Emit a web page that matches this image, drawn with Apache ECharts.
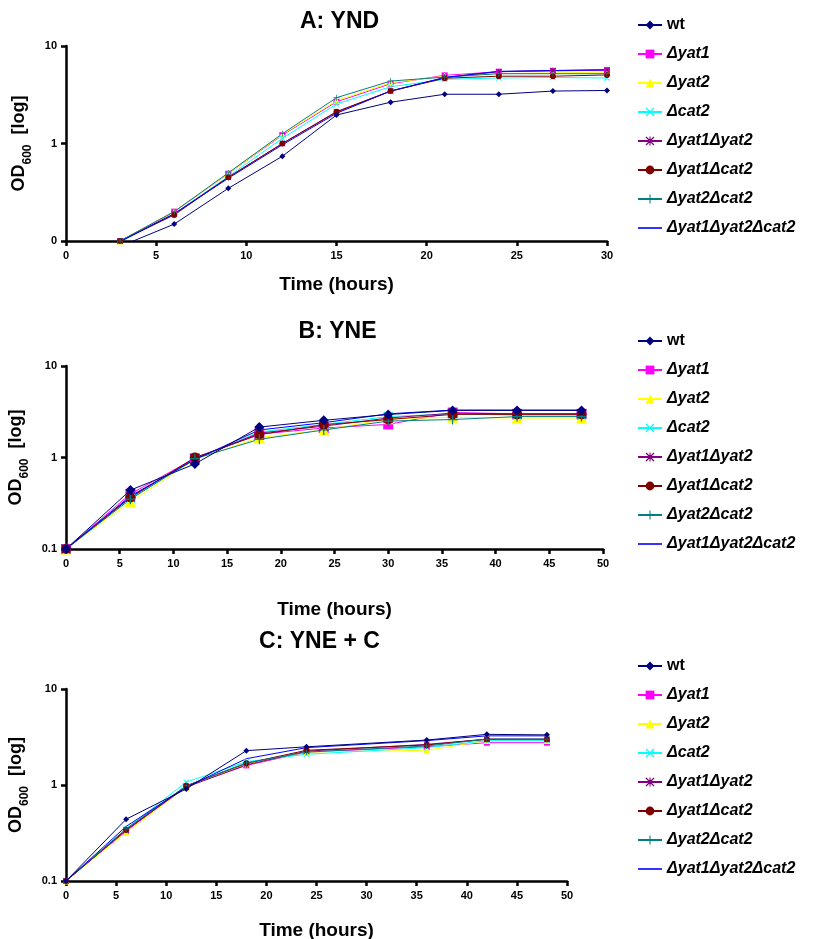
<!DOCTYPE html>
<html><head><meta charset="utf-8">
<script src="https://cdn.jsdelivr.net/npm/echarts@6/dist/echarts.min.js"></script>
<style>html,body{margin:0;padding:0;background:#fff}#c{width:819px;height:939px}</style>
</head><body><div id="c"></div>
<script>
// ---- data ----
const seriesNames = ['wt','Δyat1','Δyat2','Δcat2','Δyat1Δyat2','Δyat1Δcat2','Δyat2Δcat2','Δyat1Δyat2Δcat2'];
const panelTitles = ['A: YND','B: YNE','C: YNE + C'];
const yTicksA = ['0','1','10'];
const timesA = [3,6,9,12,15,18,21,24,27,30];
const A_wt       = [0.088,0.149,0.347,0.74,1.96,2.65,3.2,3.2,3.45,3.5];
const A_yat1     = [0.1,0.2,0.49,1.22,2.68,4.1,5.0,5.45,5.55,5.65];
const A_yat2     = [0.1,0.2,0.49,1.24,2.75,4.2,4.9,5.2,5.3,5.4];
const A_cat2     = [0.1,0.19,0.46,1.13,2.54,3.82,4.55,4.7,4.75,4.7];
const A_yat1yat2 = [0.1,0.19,0.45,1.0,2.1,3.45,4.75,5.45,5.6,5.7];
const A_yat1cat2 = [0.1,0.185,0.45,1.0,2.12,3.45,4.67,4.9,4.9,5.05];
const A_yat2cat2 = [0.1,0.2,0.5,1.26,2.95,4.37,4.8,5.2,5.2,5.2];
const A_triple   = [0.098,0.19,0.44,0.97,2.04,3.45,4.75,5.5,5.6,5.7];

const timesB = [0,6,12,18,24,30,36,42,48];
const B_wt       = [0.1,0.44,0.85,2.15,2.55,2.95,3.27,3.27,3.27];
const B_yat1     = [0.1,0.40,0.98,1.8,2.1,2.3,3.1,3.0,3.0];
const B_yat2     = [0.1,0.33,0.95,1.65,2.0,2.65,2.75,2.7,2.7];
const B_cat2     = [0.1,0.36,0.95,1.9,2.3,2.8,3.0,2.9,2.9];
const B_yat1yat2 = [0.1,0.37,0.97,1.85,2.2,2.7,3.05,3.0,3.0];
const B_yat1cat2 = [0.1,0.365,1.0,1.78,2.28,2.6,2.96,2.96,2.96];
const B_yat2cat2 = [0.1,0.35,0.97,1.58,2.0,2.5,2.6,2.8,2.8];
const B_triple   = [0.1,0.38,0.95,2.0,2.4,3.0,3.3,3.3,3.3];

const timesC = [0,6,12,18,24,36,42,48];
const C_wt       = [0.1,0.44,0.91,2.28,2.5,2.94,3.37,3.33];
const C_yat1     = [0.1,0.33,0.97,1.6,2.2,2.5,2.76,2.76];
const C_yat2     = [0.1,0.32,0.95,1.65,2.2,2.3,2.9,2.9];
const C_cat2     = [0.1,0.35,1.07,1.75,2.09,2.45,2.9,2.9];
const C_yat1yat2 = [0.1,0.34,0.95,1.62,2.25,2.65,3.0,3.0];
const C_yat1cat2 = [0.1,0.34,0.98,1.68,2.3,2.61,3.0,3.0];
const C_yat2cat2 = [0.1,0.35,0.98,1.7,2.2,2.55,3.0,3.0];
const C_triple   = [0.1,0.37,0.95,1.88,2.45,2.9,3.25,3.25];

// ---- styling ----
const colors = ['#000080','#FF00FF','#FFFF00','#00FFFF','#800080','#800000','#008080','#0000FF'];
const X_PATH = 'path://M0,1 L1,0 L5,4 L9,0 L10,1 L6,5 L10,9 L9,10 L5,6 L1,10 L0,9 L4,5 Z';
const PLUS_PATH = 'path://M4.4,0 L5.6,0 L5.6,4.4 L10,4.4 L10,5.6 L5.6,5.6 L5.6,10 L4.4,10 L4.4,5.6 L0,5.6 L0,4.4 L4.4,4.4 Z';
const AST_PATH = 'path://M4.4,0 L5.6,0 L5.6,4.4 L10,4.4 L10,5.6 L5.6,5.6 L5.6,10 L4.4,10 L4.4,5.6 L0,5.6 L0,4.4 L4.4,4.4 Z M1,0 L5,4 L9,0 L10,1 L6,5 L10,9 L9,10 L5,6 L1,10 L0,9 L4,5 L0,1 Z';
const symbols = ['diamond','rect','triangle',X_PATH,AST_PATH,'circle',PLUS_PATH,'none'];
const LINE_ICON = 'path://M0,0 L24,0 L24,1.6 L0,1.6 Z';

const panels = [
  {times: timesA, data:[A_wt,A_yat1,A_yat2,A_cat2,A_yat1yat2,A_yat1cat2,A_yat2cat2,A_triple],
   grid:{left:66, top:46, width:541, height:195}, xmax:30, sym:6, titleTop:5, legendTop:12, xNameGap:34, zeroLabel:true},
  {times: timesB, data:[B_wt,B_yat1,B_yat2,B_cat2,B_yat1yat2,B_yat1cat2,B_yat2cat2,B_triple],
   grid:{left:66, top:366, width:537, height:183}, xmax:50, sym:10, titleTop:315, legendTop:328, xNameGap:51, zeroLabel:false},
  {times: timesC, data:[C_wt,C_yat1,C_yat2,C_cat2,C_yat1yat2,C_yat1cat2,C_yat2cat2,C_triple],
   grid:{left:66, top:689, width:501, height:192}, xmax:50, sym:6, titleTop:625, legendTop:653, xNameGap:40, zeroLabel:false}
];

const FF = 'Liberation Sans, Arial, sans-serif';
const tickFont = {fontFamily:FF, fontWeight:'bold', fontSize:11, color:'#000'};
const option = {animation:false, backgroundColor:'#fff', title:[], grid:[], xAxis:[], yAxis:[], series:[], legend:[]};

panels.forEach((p, pi) => {
  option.title.push({text: panelTitles[pi], left: p.grid.left + p.grid.width/2 - 2, top: p.titleTop, textAlign:'center',
    textStyle:{fontFamily:FF, fontWeight:'bold', fontSize:23, color:'#000'}});
  option.grid.push(Object.assign({outerBoundsMode:'none', containLabel:false}, p.grid));
  option.xAxis.push({type:'value', gridIndex:pi, min:0, max:p.xmax, interval:5,
    name:'Time (hours)', nameLocation:'middle', nameGap:p.xNameGap,
    nameTextStyle:{fontFamily:FF, fontWeight:'bold', fontSize:19, color:'#000'},
    axisLine:{lineStyle:{color:'#000', width:2.5}}, axisTick:{length:5, lineStyle:{color:'#000', width:2.5}},
    axisLabel:Object.assign({margin:9}, tickFont), splitLine:{show:false}});
  option.yAxis.push({type:'log', logBase:10, gridIndex:pi, min:0.1, max:10,
    name:'{a|OD}{s|600}{a|  [log]}', nameLocation:'middle', nameGap:24, nameRotate:90,
    nameTextStyle:{rich:{a:{fontFamily:FF, fontWeight:'bold', fontSize:18, color:'#000'},
                         s:{fontFamily:FF, fontWeight:'bold', fontSize:12, color:'#000', verticalAlign:'bottom', padding:[0,0,-6,0]}}},
    axisLine:{lineStyle:{color:'#000', width:2.5}}, axisTick:{length:5, lineStyle:{color:'#000', width:2.5}},
    minorTick:{show:false}, splitLine:{show:false},
    axisLabel:Object.assign({margin:9, formatter: v => {
      const idx = Math.round(Math.log10(v)) + 1;
      return p.zeroLabel ? yTicksA[idx] : String(+v.toPrecision(3));
    }}, tickFont)});
  seriesNames.forEach((nm, si) => {
    option.series.push({type:'line', name:nm, xAxisIndex:pi, yAxisIndex:pi, clip:true,
      data: p.times.map((t, k) => [t, p.data[si][k]]),
      symbol: symbols[si], symbolSize: symbols[si]==='triangle' ? p.sym+1 : p.sym, showSymbol: symbols[si] !== 'none',
      color: colors[si], lineStyle:{width:1, color:colors[si]}, itemStyle:{color:colors[si]}, z: si===0?10:2});
  });
  option.legend.push({orient:'vertical', left:632, top:p.legendTop, itemWidth:24, itemHeight:11, itemGap:13,
    data: seriesNames.map((nm, si) => symbols[si] === 'none' ? {name:nm, icon:LINE_ICON, itemStyle:{color:colors[si]}} : {name:nm}),
    itemStyle:{borderWidth:0},
    formatter: nm => nm === 'wt' ? '{n|wt}' : '{i|' + nm + '}',
    textStyle:{rich:{n:{fontFamily:FF, fontWeight:'bold', fontSize:16, color:'#000'},
                     i:{fontFamily:FF, fontWeight:'bold', fontStyle:'italic', fontSize:16, color:'#000'}}}});
});

const chart = echarts.init(document.getElementById('c'), null, {renderer:'canvas'});
chart.setOption(option);
</script></body></html>
